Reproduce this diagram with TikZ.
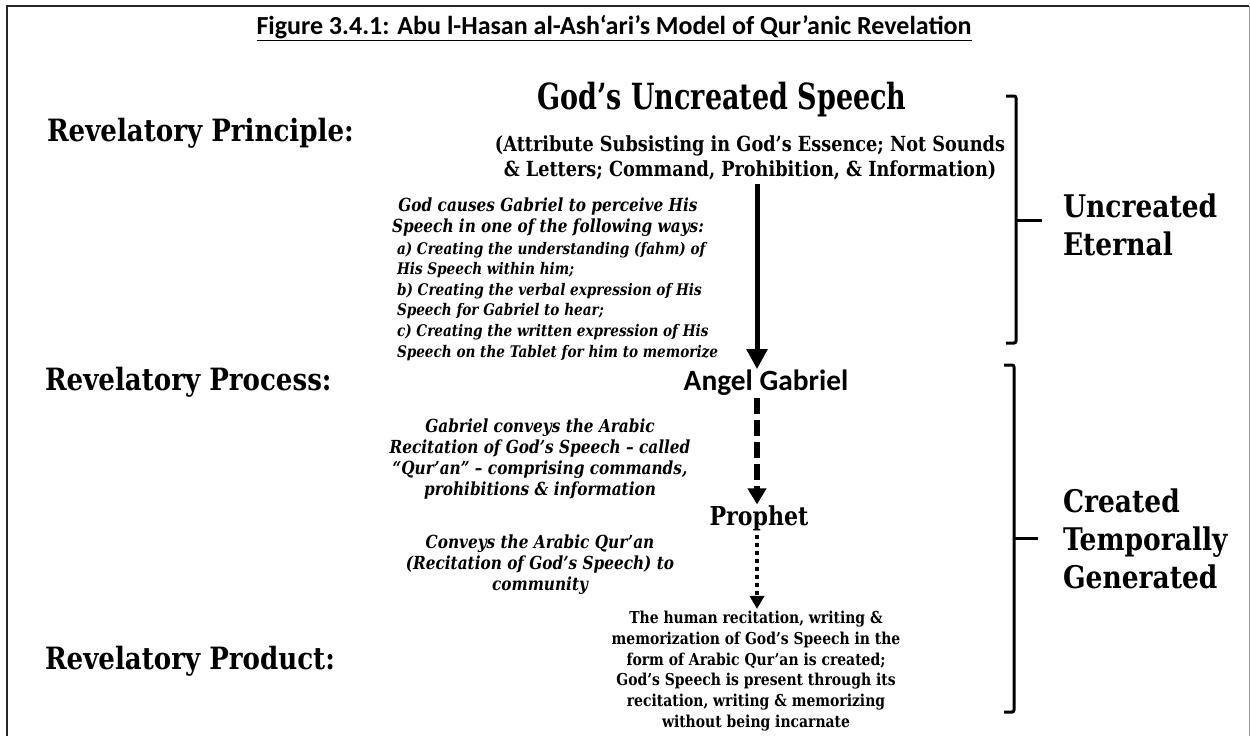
\documentclass[tikz,border=0pt]{standalone}
\usepackage{fontspec}
\usetikzlibrary{arrows.meta}
\newfontfamily\camfont{DejaVu Serif}[FakeStretch=0.85]
\newfontfamily\bigfont{DejaVu Serif}[FakeStretch=0.75]
\newfontfamily\calfont{Carlito}
\tikzset{
  heading/.style={font=\camfont\bfseries\fontsize{30.7}{34}\selectfont, anchor=west},
  sidelabel/.style={font=\camfont\bfseries\fontsize{31.2}{38}\selectfont, anchor=west, align=left},
  note/.style={font=\camfont\bfseries\itshape\fontsize{18}{21}\selectfont, align=center},
  listnote/.style={font=\camfont\bfseries\itshape\fontsize{16}{20.6}\selectfont, align=left},
  product/.style={font=\camfont\bfseries\fontsize{16.4}{20.8}\selectfont, align=center},
  bracket/.style={line width=3pt, rounded corners=2pt},
  flow/.style={line width=5pt, -{Triangle[length=20pt,width=20pt]}},
}
\begin{document}
\begin{tikzpicture}[x=1pt,y=-1pt, every node/.style={inner sep=0pt, outer sep=0pt}]
\useasboundingbox (0,0) rectangle (1250,736);
% page frame
\draw[line width=2pt, black!85] (7,736) -- (7,6) -- (1249,6);
\draw[line width=1pt, black!40] (1249,6) -- (1249,736);

% title
\node[font=\calfont\bfseries\fontsize{26}{30}\selectfont] (title) at (614,28)
  {\underline{Figure 3.4.1: Abu l-Hasan al-Ash‘ari’s Model of Qur’anic Revelation}};

% left column
\node[heading] (principle) at (47,133) {Revelatory Principle:};
\node[heading] (process) at (45,382) {Revelatory Process:};
\node[heading] (product) at (45,661) {Revelatory Product:};

% central column
\node[font=\bigfont\bfseries\fontsize{36}{40}\selectfont] (speech) at (722,100) {God’s Uncreated Speech};
\node[font=\camfont\bfseries\fontsize{20.8}{25}\selectfont, align=center] (attr) at (750,158)
  {(Attribute Subsisting in God’s Essence; Not Sounds\\ \& Letters; Command, Prohibition, \& Information)};

\node[note, align=center] (ways) at (548,217)
  {God causes Gabriel to perceive His\\Speech in one of the following ways:};
\node[listnote, anchor=north west] (modes) at (397,242)
  {a) Creating the understanding (fahm) of\\
   His Speech within him;\\
   b) Creating the verbal expression of His\\
   Speech for Gabriel to hear;\\
   c) Creating the written expression of His\\
   Speech on the Tablet for him to memorize};

\node[font=\calfont\bfseries\fontsize{29.4}{32}\selectfont] (gabriel) at (766,383) {Angel Gabriel};

\node[note] (conveys) at (540,459)
  {Gabriel conveys the Arabic\\Recitation of God’s Speech – called\\“Qur’an” – comprising commands,\\prohibitions \& information};

\node[font=\camfont\bfseries\fontsize{26}{30}\selectfont] (prophet) at (759,518) {Prophet};

\node[note] (community) at (540,565)
  {Conveys the Arabic Qur’an\\(Recitation of God’s Speech) to\\community};

\node[product] (human) at (756,671)
  {The human recitation, writing \&\\memorization of God’s Speech in the\\form of Arabic Qur’an is created;\\God’s Speech is present through its\\recitation, writing \& memorizing\\without being incarnate};

% flow arrows
\coordinate (axis) at (757,0);
\draw[flow] (attr.south -| axis) ++(0,4) -- ([yshift=1pt]gabriel.north -| axis);
\draw[line width=6pt, dash pattern=on 16pt off 6pt, -{Triangle[length=16pt,width=18pt]}]
  ([yshift=-2pt]gabriel.south -| axis) -- ([yshift=1pt]prophet.north -| axis);
\draw[line width=4pt, dash pattern=on 4pt off 4pt, -{Triangle[length=13pt,width=14pt]}]
  ([yshift=-4pt]prophet.south -| axis) -- ([yshift=2pt]human.north -| axis);

% right-hand brackets
\draw[bracket] (1006,96) -- (1016,96) -- (1016,343) -- (1006,343);
\coordinate (tickA) at (1016,220);
\draw[line width=3pt] (tickA) -- ++(26,0);
\node[sidelabel] (uncreated) at (1063,225) {Uncreated\\Eternal};

\draw[bracket] (1004,365) -- (1014,365) -- (1014,712) -- (1004,712);
\coordinate (tickB) at (1014,538);
\draw[line width=3pt] (tickB) -- ++(24,0);
\node[sidelabel] (created) at (1063,539) {Created\\Temporally\\Generated};
\end{tikzpicture}
\end{document}
